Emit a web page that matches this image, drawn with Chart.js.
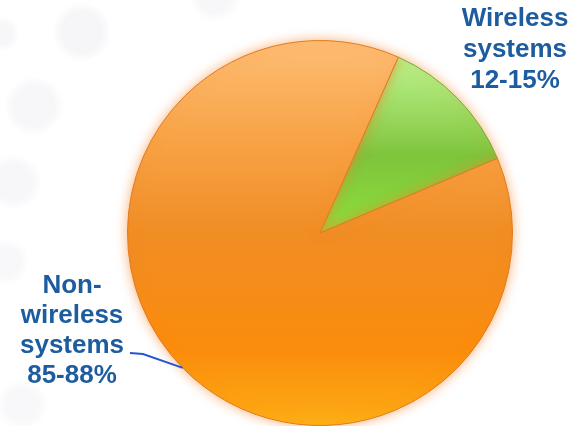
<!DOCTYPE html>
<html>
<head>
<meta charset="utf-8">
<script src="https://cdn.jsdelivr.net/npm/chart.js@4"></script>
<style>
    html, body {
        margin: 0;
        padding: 0;
        width: 574px;
        height: 426px;
        overflow: hidden;
        background-color: #ffffff;
        /* faint soft dots on the left side */
        background-image:
            radial-gradient(circle at 82px 32px, #f6f6f9 0, #f6f6f9 20px, rgba(255,255,255,0) 30px),
            radial-gradient(circle at 34px 106px, #f7f7f9 0, #f7f7f9 20px, rgba(255,255,255,0) 30px),
            radial-gradient(circle at 2px 34px, #f7f7f9 0, #f7f7f9 10px, rgba(255,255,255,0) 18px),
            radial-gradient(circle at 14px 182px, #f7f7fa 0, #f7f7fa 18px, rgba(255,255,255,0) 28px),
            radial-gradient(circle at 6px 262px, #f8f8fa 0, #f8f8fa 14px, rgba(255,255,255,0) 24px),
            radial-gradient(circle at 22px 405px, #f8f8fa 0, #f8f8fa 16px, rgba(255,255,255,0) 26px),
            radial-gradient(circle at 215px -4px, #f7f7f9 0, #f7f7f9 16px, rgba(255,255,255,0) 26px);
    }
    #wrap {
        position: relative;
        width: 574px;
        height: 426px;
    }
</style>
</head>
<body>
<div id="wrap">
    <canvas id="share-chart"></canvas>
</div>
<script>
/// -------------- DATA --------------- ///

const categories = ["Wireless systems", "Non-wireless systems"];
const shares = [12, 88];
const labelLines = [
    ["Wireless", "systems", "12-15%"],
    ["Non-", "wireless", "systems", "85-88%"]
];

/// -------------- STYLE HELPERS --------------- ///

function sliceFill(context) {
    const chart = context.chart;
    const area = chart.chartArea;
    if (!area) return context.dataIndex === 0 ? "#8fd24c" : "#f7921c";

    const ctx = chart.ctx;
    const g = ctx.createLinearGradient(0, area.top, 0, area.bottom);

    if (context.dataIndex === 0) {
        g.addColorStop(0, "#c4f597");
        g.addColorStop(0.12, "#ace676");
        g.addColorStop(0.3, "#7fc43c");
        g.addColorStop(0.5, "#8de03c");
        g.addColorStop(1, "#8ee23c");
    } else {
        g.addColorStop(0, "#fdbd74");
        g.addColorStop(0.25, "#f8a448");
        g.addColorStop(0.5, "#f08d24");
        g.addColorStop(0.8, "#fb8c0c");
        g.addColorStop(0.95, "#fca412");
        g.addColorStop(1, "#fdb216");
    }
    return g;
}

// soft glow around the pie edge
const pieGlow = {
    id: "pieGlow",
    beforeDatasetsDraw(chart) {
        const ctx = chart.ctx;
        ctx.save();
        ctx.shadowColor = "rgba(245, 130, 40, 0.6)";
        ctx.shadowBlur = 12;
    },
    afterDatasetsDraw(chart) {
        chart.ctx.restore();
    }
};

// text labels with a leader line for the large slice
const sliceLabels = {
    id: "sliceLabels",
    afterDraw(chart) {
        const ctx = chart.ctx;
        const arcs = chart.getDatasetMeta(0).data;

        ctx.save();
        ctx.font = "bold 26px 'Liberation Sans', Arial, sans-serif";
        ctx.fillStyle = "#1d5c9f";
        ctx.textAlign = "center";
        ctx.textBaseline = "alphabetic";

        labelLines[0].forEach((line, i) => {
            ctx.fillText(line, 515, 26 + i * 31);
        });
        labelLines[1].forEach((line, i) => {
            ctx.fillText(line, 72, 293 + i * 30);
        });

        // leader line to the edge of the non-wireless slice
        const arc = arcs[1];
        const a = (225.5 - 90) * Math.PI / 180;
        const ex = arc.x + Math.cos(a) * arc.outerRadius;
        const ey = arc.y + Math.sin(a) * arc.outerRadius;

        ctx.strokeStyle = "#2355d6";
        ctx.lineWidth = 2;
        ctx.beginPath();
        ctx.moveTo(130, 353);
        ctx.lineTo(143, 354);
        ctx.lineTo(ex, ey);
        ctx.stroke();
        ctx.restore();
    }
};

/// -------------- PIE CHART --------------- ///

new Chart(document.getElementById("share-chart"), {
    type: "pie",
    data: {
        labels: categories,
        datasets: [{
            data: shares,
            backgroundColor: sliceFill,
            borderColor: ["#6cae32", "#e27a1e"],
            borderWidth: 1
        }]
    },
    options: {
        responsive: true,
        maintainAspectRatio: false,
        animation: false,
        rotation: 24,
        layout: {
            padding: { left: 127, right: 61, top: 40, bottom: 0 }
        },
        plugins: {
            legend: { display: false },
            tooltip: { enabled: false }
        }
    },
    plugins: [pieGlow, sliceLabels]
});
</script>
</body>
</html>
